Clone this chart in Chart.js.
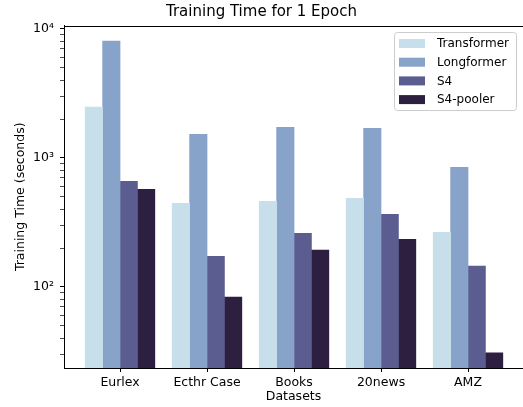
<!DOCTYPE html>
<html>
<head>
<meta charset="utf-8">
<script src="https://cdn.jsdelivr.net/npm/chart.js@4"></script>
<style>
html,body{margin:0;padding:0;background:#fff;}
#wrap{width:523px;height:407px;}
</style>
</head>
<body>
<div id="wrap"><canvas id="c" width="523" height="407"></canvas></div>
<script>
const categories = ["Eurlex", "Ecthr Case", "Books", "20news", "AMZ"];
const seriesNames = ["Transformer", "Longformer", "S4", "S4-pooler"];
const transformer = [2500, 448, 464, 490, 267];
const longformer = [8120, 1535, 1740, 1709, 852];
const s4 = [663, 174, 262, 368, 146];
const s4pooler = [575, 84, 194, 235, 31];
const seriesColors = ["#c7dfea", "#88a3c9", "#5b5c8f", "#2c1f3f"];
const yMajorTicks = [100, 1000, 10000];
const yMajorLabels = ["10²", "10³", "10⁴"];

const seriesValues = [transformer, longformer, s4, s4pooler];
const FONT = "'DejaVu Sans', sans-serif";

const datasets = seriesNames.map((name, k) => ({
  label: name,
  data: seriesValues[k].map((v, i) => ({x: i, y: v})),
  backgroundColor: seriesColors[k],
  borderColor: seriesColors[k],
  borderWidth: 0,
  inflateAmount: 0,
  categoryPercentage: 0.8,
  barPercentage: 1.04
}));

const frameAndLegend = {
  id: 'frameAndLegend',
  afterDraw(chart) {
    const ctx = chart.ctx;
    const a = chart.chartArea;
    ctx.save();
    ctx.strokeStyle = '#000';
    ctx.lineWidth = 1;
    ctx.beginPath();
    ctx.moveTo(a.left, Math.round(a.top) + 0.5);
    ctx.lineTo(a.right, Math.round(a.top) + 0.5);
    ctx.stroke();
    const bx = a.right - 128.5, by = a.top + 7, bw = 122, bh = 78, r = 3;
    ctx.beginPath();
    ctx.moveTo(bx + r, by);
    ctx.lineTo(bx + bw - r, by);
    ctx.quadraticCurveTo(bx + bw, by, bx + bw, by + r);
    ctx.lineTo(bx + bw, by + bh - r);
    ctx.quadraticCurveTo(bx + bw, by + bh, bx + bw - r, by + bh);
    ctx.lineTo(bx + r, by + bh);
    ctx.quadraticCurveTo(bx, by + bh, bx, by + bh - r);
    ctx.lineTo(bx, by + r);
    ctx.quadraticCurveTo(bx, by, bx + r, by);
    ctx.closePath();
    ctx.fillStyle = 'rgba(255,255,255,0.8)';
    ctx.fill();
    ctx.strokeStyle = '#cccccc';
    ctx.lineWidth = 1;
    ctx.stroke();
    ctx.font = '12px ' + FONT;
    ctx.textBaseline = 'middle';
    ctx.textAlign = 'left';
    chart.data.datasets.forEach((ds, k) => {
      const cy = by + 11 + k * 18.7;
      ctx.fillStyle = ds.backgroundColor;
      ctx.fillRect(bx + 4.5, cy - 4.5, 26, 9);
      ctx.fillStyle = '#000';
      ctx.fillText(ds.label, bx + 42.5, cy + 0.5);
    });
    ctx.restore();
  }
};

new Chart(document.getElementById('c'), {
  type: 'bar',
  data: { datasets },
  plugins: [frameAndLegend],
  options: {
    responsive: false,
    animation: false,
    devicePixelRatio: 1,
    layout: { padding: 0 },
    plugins: {
      legend: { display: false },
      tooltip: { enabled: false },
      title: {
        display: true,
        text: 'Training Time for 1 Epoch',
        color: '#000',
        font: { family: FONT, size: 15, weight: 'normal', lineHeight: 1.2 },
        padding: { top: 3, bottom: 4.5 }
      }
    },
    scales: {
      x: {
        type: 'linear',
        min: -0.644,
        max: 4.632,
        offset: false,
        afterFit(s) { s.height = 39; },
        afterBuildTicks(s) { s.ticks = categories.map((c, i) => ({value: i})); },
        ticks: {
          autoSkip: false,
          maxRotation: 0,
          color: '#000',
          padding: 3,
          font: { family: FONT, size: 12.5 },
          callback: (v) => categories[v] !== undefined ? categories[v] : ''
        },
        grid: { display: true, offset: false, drawOnChartArea: false, drawTicks: true, tickLength: 4, tickColor: '#000', tickWidth: 1 },
        border: { display: true, color: '#000', width: 1 },
        title: {
          display: true, text: 'Datasets', color: '#000',
          font: { family: FONT, size: 12.5, lineHeight: 1.2 },
          padding: { top: 0, bottom: 3 }
        }
      },
      y: {
        type: 'logarithmic',
        min: 23.55,
        max: 10644,
        afterFit(s) { s.width = 64; },
        afterBuildTicks(s) {
          const t = [];
          for (let d = 10; d <= 10000; d *= 10) {
            for (let m = 1; m <= 9; m++) {
              const v = m * d;
              if (v >= s.min && v <= s.max) t.push({value: v, major: m === 1});
            }
          }
          s.ticks = t;
        },
        ticks: {
          autoSkip: false,
          color: '#000',
          padding: 6,
          font: { family: FONT, size: 12.5 },
          callback: (v) => {
            const idx = yMajorTicks.indexOf(v);
            return idx >= 0 ? yMajorLabels[idx] : '';
          }
        },
        grid: {
          display: true, drawOnChartArea: false, drawTicks: true, tickLength: 4,
          tickColor: '#000',
          tickWidth: (c) => (c.tick && yMajorTicks.indexOf(c.tick.value) >= 0) ? 1 : 0.7
        },
        border: { display: true, color: '#000', width: 1 },
        title: {
          display: true, text: 'Training Time (seconds)', color: '#000',
          font: { family: FONT, size: 12.5, lineHeight: 1.2 },
          padding: { top: 13.5, bottom: 0 }
        }
      }
    }
  }
});
</script>
</body>
</html>
